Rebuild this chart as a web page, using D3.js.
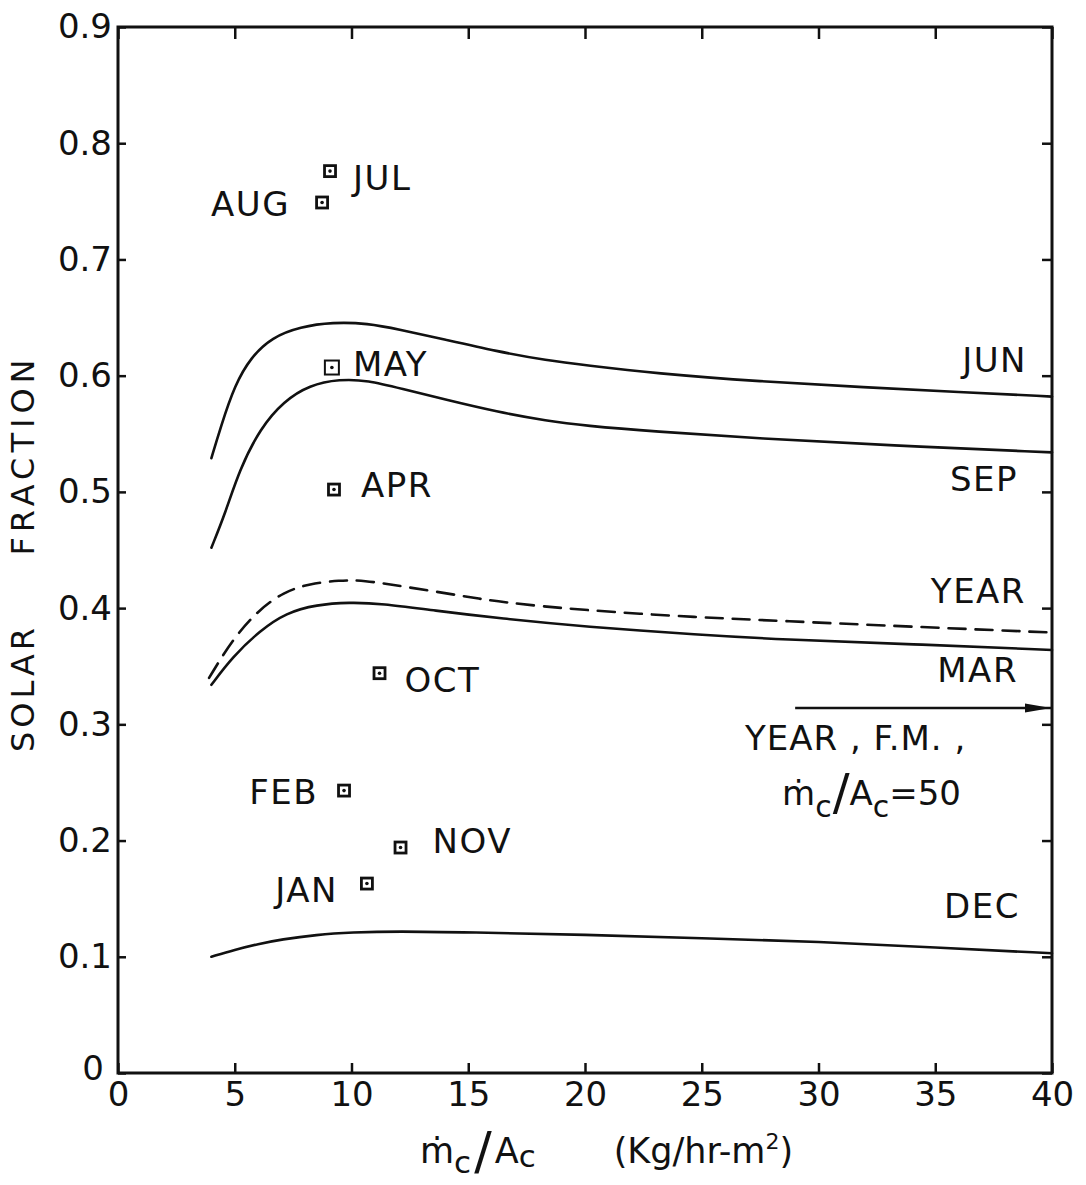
<!DOCTYPE html>
<html>
<head>
<meta charset="utf-8">
<script src="https://cdn.jsdelivr.net/npm/d3@7"></script>
<style>
  html, body { margin: 0; padding: 0; background: #fff; }
  svg { display: block; }
  text { font-family: "DejaVu Sans", sans-serif; fill: #111; }
</style>
</head>
<body>
<svg id="chart" width="1086" height="1185"></svg>
<script>
// Axis ticks
const xTicks = [0, 5, 10, 15, 20, 25, 30, 35, 40];
const xTickLabels = ["0", "5", "10", "15", "20", "25", "30", "35", "40"];
const yTicks = [0, 0.1, 0.2, 0.3, 0.4, 0.5, 0.6, 0.7, 0.8, 0.9];
const yTickLabels = ["0", "0.1", "0.2", "0.3", "0.4", "0.5", "0.6", "0.7", "0.8", "0.9"];

// Monthly solar fraction curves vs. collector flow rate (kg/hr-m2)
const junX = [4.0, 4.4, 5.0, 5.7, 6.6, 7.8, 9.2, 10.7, 12.0, 14.0, 16.2, 18.4, 20.0, 23.0, 27.5, 32.0, 36.0, 40.0];
const junF = [0.529, 0.556, 0.592, 0.616, 0.633, 0.642, 0.646, 0.645, 0.640, 0.631, 0.621, 0.613, 0.609, 0.602, 0.595, 0.590, 0.586, 0.582];

const sepX = [4.0, 4.6, 5.2, 6.1, 7.1, 8.2, 9.5, 10.7, 12.1, 14.1, 16.2, 18.4, 20.0, 22.9, 27.5, 33.0, 40.0];
const sepF = [0.452, 0.482, 0.519, 0.555, 0.578, 0.592, 0.597, 0.596, 0.589, 0.579, 0.569, 0.561, 0.557, 0.552, 0.546, 0.540, 0.534];

const yearX = [3.9, 4.9, 6.0, 7.1, 8.2, 9.5, 10.5, 12.1, 14.9, 16.4, 20.0, 24.9, 28.4, 34.0, 40.0];
const yearF = [0.340, 0.373, 0.398, 0.414, 0.421, 0.424, 0.424, 0.419, 0.410, 0.405, 0.398, 0.392, 0.389, 0.384, 0.379];

const marX = [4.0, 4.9, 6.1, 7.2, 8.5, 9.9, 11.3, 13.5, 16.4, 20.0, 24.9, 28.4, 34.0, 40.0];
const marF = [0.334, 0.358, 0.381, 0.396, 0.403, 0.405, 0.404, 0.398, 0.391, 0.384, 0.377, 0.373, 0.369, 0.364];

const decX = [4.0, 5.0, 6.0, 7.0, 8.5, 10.0, 12.0, 15.0, 20.0, 25.0, 30.0, 35.0, 40.0];
const decF = [0.100, 0.106, 0.111, 0.115, 0.119, 0.121, 0.122, 0.121, 0.119, 0.116, 0.113, 0.108, 0.103];

// Single monthly operating points
const pointMonths = ["JUL", "AUG", "MAY", "APR", "OCT", "FEB", "NOV", "JAN"];
const pointX = [9.08, 8.74, 9.16, 9.25, 11.2, 9.68, 12.1, 10.66];
const pointF = [0.776, 0.749, 0.607, 0.502, 0.344, 0.243, 0.194, 0.163];

// Yearly fraction for fully mixed tank at m/A = 50
const fmYearF = 0.314;
const fmArrowFrom = 29.0;

(function draw() {
  const svg = d3.select("#chart");
  const mLeft = 118, mRight = 1052, mTop = 27, mBottom = 1073;
  const x = d3.scaleLinear().domain([0, 40]).range([mLeft, mRight]);
  const y = d3.scaleLinear().domain([0, 0.9]).range([mBottom, mTop]);

  svg.append("rect").attr("width", 1086).attr("height", 1185).attr("fill", "#fff");

  // frame
  svg.append("rect")
    .attr("x", mLeft).attr("y", mTop)
    .attr("width", mRight - mLeft).attr("height", mBottom - mTop)
    .attr("fill", "none").attr("stroke", "#111").attr("stroke-width", 3);

  const tickFont = 34;

  const gx = svg.append("g").attr("transform", `translate(0,${mBottom})`)
    .call(d3.axisBottom(x).tickValues(xTicks).tickSize(-10).tickSizeOuter(0).tickPadding(9)
      .tickFormat((d, i) => xTickLabels[i]));
  const gy = svg.append("g").attr("transform", `translate(${mLeft},0)`)
    .call(d3.axisLeft(y).tickValues(yTicks).tickSize(-8).tickSizeOuter(0).tickPadding(6)
      .tickFormat((d, i) => yTickLabels[i]));
  const gr = svg.append("g").attr("transform", `translate(${mRight},0)`)
    .call(d3.axisRight(y).tickValues(yTicks).tickSize(-10).tickSizeOuter(0).tickFormat(""));
  const gt = svg.append("g").attr("transform", `translate(0,${mTop})`)
    .call(d3.axisTop(x).tickValues(xTicks).tickSize(-12).tickSizeOuter(0).tickFormat(""));

  [gx, gy, gr, gt].forEach(g => {
    g.select(".domain").remove();
    g.selectAll(".tick line").attr("stroke", "#111").attr("stroke-width", 2.5);
    g.selectAll(".tick text")
      .attr("font-family", "DejaVu Sans, sans-serif")
      .attr("font-size", tickFont).attr("fill", "#111");
  });
  // the two zero labels sit at the corner; nudge the vertical one clear
  gy.selectAll(".tick").filter(d => d === 0).select("text").attr("x", -14).attr("dy", "0.2em");

  // curves
  const line = d3.line().x(d => x(d[0])).y(d => y(d[1])).curve(d3.curveBasis);
  const zip = (xs, ys) => xs.map((v, i) => [v, ys[i]]);

  const curves = [
    { xs: junX, fs: junF, dash: null },
    { xs: sepX, fs: sepF, dash: null },
    { xs: yearX, fs: yearF, dash: "17,10" },
    { xs: marX, fs: marF, dash: null },
    { xs: decX, fs: decF, dash: null }
  ];
  curves.forEach(c => {
    svg.append("path")
      .attr("d", line(zip(c.xs, c.fs)))
      .attr("fill", "none").attr("stroke", "#111").attr("stroke-width", 2.6)
      .attr("stroke-linecap", "round")
      .attr("stroke-dasharray", c.dash);
  });

  // curve labels near right edge
  const curveLabels = [
    { text: "JUN", xEnd: 1027, base: 372 },
    { text: "SEP", xEnd: 1018, base: 491 },
    { text: "YEAR", xEnd: 1026, base: 603 },
    { text: "MAR", xEnd: 1018, base: 682 },
    { text: "DEC", xEnd: 1020, base: 918 }
  ];
  svg.selectAll("text.clabel").data(curveLabels).join("text")
    .attr("class", "clabel")
    .attr("x", d => d.xEnd).attr("y", d => d.base)
    .attr("text-anchor", "end").attr("font-size", 34).attr("letter-spacing", 1.5)
    .text(d => d.text);

  // monthly points: small square with centre dot
  const pointStyle = {
    MAY: { half: 7, sw: 2 },
    default: { half: 5.5, sw: 2.8 }
  };
  const labelOffset = {
    JUL: { dx: 23, dy: 19, anchor: "start" },
    AUG: { dx: -32, dy: 14, anchor: "end" },
    MAY: { dx: 21, dy: 8, anchor: "start" },
    APR: { dx: 27, dy: 7, anchor: "start" },
    OCT: { dx: 25, dy: 19, anchor: "start" },
    FEB: { dx: -26, dy: 13, anchor: "end" },
    NOV: { dx: 32, dy: 5, anchor: "start" },
    JAN: { dx: -29, dy: 18, anchor: "end" }
  };
  const st = m => pointStyle[m] || pointStyle.default;
  const pts = pointMonths.map((m, i) => ({ m, px: x(pointX[i]), py: y(pointF[i]) }));
  const pg = svg.selectAll("g.pt").data(pts).join("g").attr("class", "pt")
    .attr("transform", d => `translate(${d.px},${d.py})`);
  pg.append("rect")
    .attr("x", d => -st(d.m).half).attr("y", d => -st(d.m).half)
    .attr("width", d => 2 * st(d.m).half).attr("height", d => 2 * st(d.m).half)
    .attr("fill", "#fff").attr("stroke", "#111")
    .attr("stroke-width", d => st(d.m).sw);
  pg.append("circle").attr("r", 1.8).attr("fill", "#111");
  pg.append("text")
    .attr("x", d => labelOffset[d.m].dx).attr("y", d => labelOffset[d.m].dy)
    .attr("text-anchor", d => labelOffset[d.m].anchor)
    .attr("font-size", 34).attr("letter-spacing", 1.5)
    .text(d => d.m);

  // FM yearly arrow
  const defs = svg.append("defs");
  defs.append("marker").attr("id", "arrowHead")
    .attr("viewBox", "0 0 26 10").attr("refX", 26).attr("refY", 5)
    .attr("markerWidth", 26).attr("markerHeight", 10)
    .attr("markerUnits", "userSpaceOnUse").attr("orient", "auto")
    .append("path").attr("d", "M0,0.5 L26,5 L0,9.5 Z").attr("fill", "#111");
  svg.append("line")
    .attr("x1", x(fmArrowFrom)).attr("x2", x(40) - 1)
    .attr("y1", y(fmYearF)).attr("y2", y(fmYearF))
    .attr("stroke", "#111").attr("stroke-width", 2.6)
    .attr("marker-end", "url(#arrowHead)");

  svg.append("text").attr("x", 745).attr("y", 750).attr("font-size", 34).attr("letter-spacing", 1)
    .text("YEAR , F.M. ,");
  const ann = svg.append("text").attr("x", 782).attr("y", 805).attr("font-size", 34);
  ann.append("tspan").text("ṁ");
  ann.append("tspan").attr("dy", 12).attr("font-size", 30).text("c");
  ann.append("tspan").attr("dy", -8).attr("font-size", 50).attr("dx", 1).text("/");
  ann.append("tspan").attr("dy", -4).text("A");
  ann.append("tspan").attr("dy", 12).attr("font-size", 30).text("c");
  ann.append("tspan").attr("dy", -12).text("=50");

  // axis titles
  const xt = svg.append("text").attr("x", 420).attr("y", 1163).attr("font-size", 35);
  xt.append("tspan").text("ṁ");
  xt.append("tspan").attr("dy", 10).attr("font-size", 31).text("c");
  xt.append("tspan").attr("dy", -4).attr("font-size", 52).attr("dx", 3).text("/");
  xt.append("tspan").attr("dy", -6).attr("dx", 3).text("A");
  xt.append("tspan").attr("font-size", 31).attr("dy", 4).text("c");
  xt.append("tspan").attr("dy", -4).attr("dx", 78).text("(Kg/hr-m");
  xt.append("tspan").attr("dy", -14).attr("font-size", 22).text("2");
  xt.append("tspan").attr("dy", 14).text(")");

  svg.append("text")
    .attr("transform", "translate(34,688) rotate(-90)")
    .attr("text-anchor", "middle").attr("font-size", 32).attr("letter-spacing", 4)
    .text("SOLAR");
  svg.append("text")
    .attr("transform", "translate(34,455) rotate(-90)")
    .attr("text-anchor", "middle").attr("font-size", 32).attr("letter-spacing", 5)
    .text("FRACTION");
})();
</script>
</body>
</html>
